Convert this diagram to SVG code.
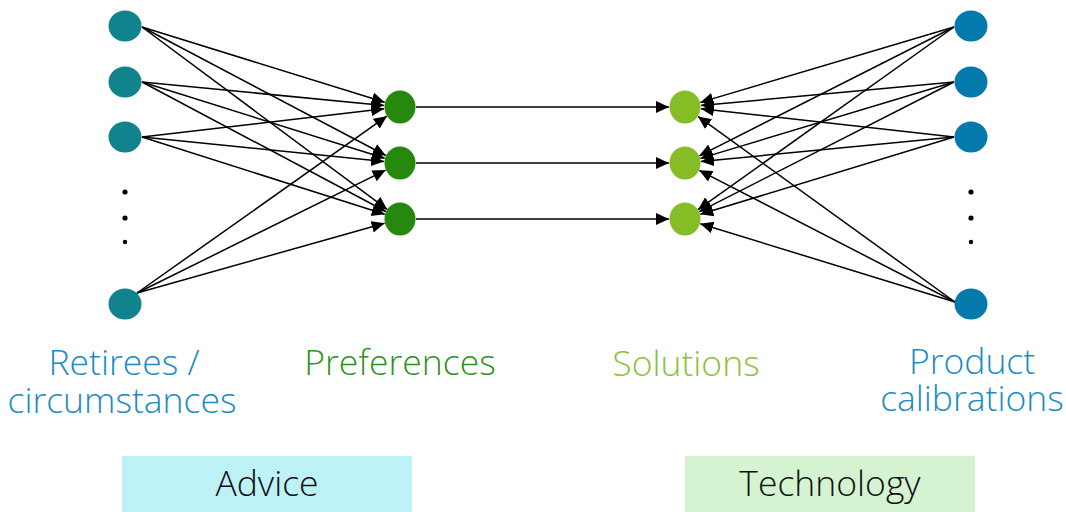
<svg xmlns="http://www.w3.org/2000/svg" width="1066" height="512" viewBox="0 0 1066 512">
<style>
.e{stroke:#000;stroke-width:1.5;fill:none;marker-end:url(#ah)}
.lbl{font-family:"Open Sans","Liberation Sans",sans-serif;font-size:35.5px;font-weight:300;text-anchor:middle}
.dot{fill:#000}
</style>
<defs>
<marker id="ah" markerUnits="userSpaceOnUse" markerWidth="15" markerHeight="13" refX="13" refY="6" orient="auto">
<path d="M0,0 L13,6 L0,12 z" fill="#000"/>
</marker>
</defs>
<rect width="1066" height="512" fill="#fff"/>
<g id="connectors">
<line class="e" x1="142" y1="27" x2="384.7" y2="102.3"/>
<line class="e" x1="142" y1="27" x2="385.8" y2="155.5"/>
<line class="e" x1="142" y1="27" x2="387.2" y2="209.4"/>
<line class="e" x1="142" y1="82" x2="384.1" y2="105.5"/>
<line class="e" x1="142" y1="82" x2="384.7" y2="158.2"/>
<line class="e" x1="142" y1="82" x2="385.9" y2="211.5"/>
<line class="e" x1="142" y1="137" x2="384.1" y2="108.8"/>
<line class="e" x1="142" y1="137" x2="384.1" y2="161.4"/>
<line class="e" x1="142" y1="137" x2="384.8" y2="214.2"/>
<line class="e" x1="137" y1="293" x2="386.9" y2="116.2"/>
<line class="e" x1="137" y1="293" x2="385.7" y2="170.1"/>
<line class="e" x1="137" y1="293" x2="384.6" y2="223.3"/>
<line class="e" x1="416" y1="107" x2="669" y2="107"/>
<line class="e" x1="416" y1="163" x2="669" y2="163"/>
<line class="e" x1="416" y1="219" x2="669" y2="219"/>
<line class="e" x1="954" y1="27" x2="700.3" y2="102.4"/>
<line class="e" x1="954" y1="27" x2="699.3" y2="155.8"/>
<line class="e" x1="954" y1="27" x2="698.0" y2="209.7"/>
<line class="e" x1="954" y1="82" x2="700.9" y2="105.5"/>
<line class="e" x1="954" y1="82" x2="700.3" y2="158.4"/>
<line class="e" x1="954" y1="82" x2="699.3" y2="211.7"/>
<line class="e" x1="954" y1="137" x2="700.9" y2="108.8"/>
<line class="e" x1="954" y1="137" x2="700.9" y2="161.5"/>
<line class="e" x1="954" y1="137" x2="700.3" y2="214.3"/>
<line class="e" x1="955" y1="302" x2="698.0" y2="116.4"/>
<line class="e" x1="955" y1="302" x2="699.2" y2="170.3"/>
<line class="e" x1="955" y1="302" x2="700.3" y2="223.7"/>
</g>
<g id="retirees" fill="#10838c">
<ellipse cx="125" cy="26" rx="16.5" ry="15.5"/>
<ellipse cx="125" cy="82" rx="16.5" ry="15.5"/>
<ellipse cx="125" cy="137" rx="16.5" ry="15.5"/>
<ellipse cx="125" cy="304" rx="16.5" ry="15.5"/>
<circle class="dot" cx="125" cy="192" r="2.6"/>
<circle class="dot" cx="125" cy="218" r="2.6"/>
<circle class="dot" cx="125" cy="242" r="2.2"/>
</g>
<g id="preferences" fill="#26890d">
<ellipse cx="400" cy="107" rx="15.5" ry="16.5"/>
<ellipse cx="400" cy="163" rx="15.5" ry="16.5"/>
<ellipse cx="400" cy="219" rx="15.5" ry="16.5"/>
</g>
<g id="solutions" fill="#86bc25">
<ellipse cx="685" cy="107" rx="15.5" ry="16.5"/>
<ellipse cx="685" cy="163" rx="15.5" ry="16.5"/>
<ellipse cx="685" cy="219" rx="15.5" ry="16.5"/>
</g>
<g id="calibrations" fill="#0479ac">
<ellipse cx="971" cy="26" rx="16.5" ry="15.5"/>
<ellipse cx="971" cy="82" rx="16.5" ry="15.5"/>
<ellipse cx="971" cy="137" rx="16.5" ry="15.5"/>
<ellipse cx="971" cy="304" rx="16.5" ry="15.5"/>
<circle class="dot" cx="971" cy="192" r="2.6"/>
<circle class="dot" cx="971" cy="218" r="2.6"/>
<circle class="dot" cx="971" cy="242" r="2.2"/>
</g>
<g id="labels">
<text class="lbl" fill="#1b8bc1"><tspan x="124" y="375">Retirees /</tspan><tspan x="122" y="413">circumstances</tspan></text>
<text class="lbl" x="400" y="375" fill="#2e9220">Preferences</text>
<text class="lbl" x="686" y="376" fill="#8cc13a">Solutions</text>
<text class="lbl" fill="#1b8bc1"><tspan x="972" y="374">Product</tspan><tspan x="972" y="411">calibrations</tspan></text>
</g>
<g id="advice">
<rect x="122" y="456" width="290" height="56" fill="#bdf2f7"/>
<text class="lbl" x="267" y="496" fill="#111">Advice</text>
</g>
<g id="technology">
<rect x="685" y="456" width="290" height="56" fill="#d4f3d1"/>
<text class="lbl" x="830" y="496" fill="#111">Technology</text>
</g>
</svg>
